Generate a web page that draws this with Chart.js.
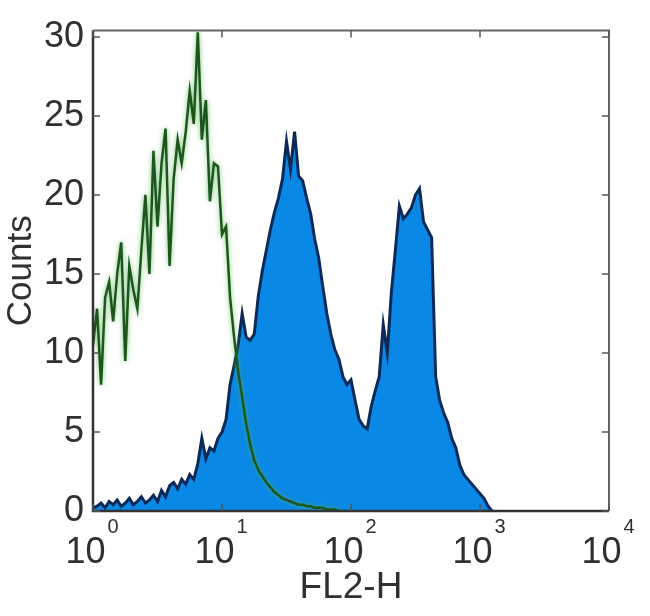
<!DOCTYPE html>
<html>
<head>
<meta charset="utf-8">
<script src="https://cdn.jsdelivr.net/npm/chart.js@4/dist/chart.umd.min.js"></script>
<style>
  html, body { margin: 0; padding: 0; background: #fff; }
  #wrap { width: 650px; height: 616px; position: relative; }
</style>
</head>
<body>
<div id="wrap"><canvas id="hist"></canvas></div>
<script>
// FL2-H histogram: isotype control (green line) vs stained sample (blue fill)

// channel centres, FL2-H units (log spaced, 32 per decade)
var CHANNELS = [
  1.000, 1.075, 1.155, 1.241, 1.334, 1.433, 1.540, 1.655, 1.778, 1.911,
  2.054, 2.207, 2.371, 2.548, 2.738, 2.943, 3.162, 3.398, 3.652, 3.924,
  4.217, 4.532, 4.870, 5.233, 5.623, 6.043, 6.494, 6.978, 7.499, 8.058,
  8.660, 9.306,
  10.00, 10.75, 11.55, 12.41, 13.34, 14.33, 15.40, 16.55, 17.78, 19.11,
  20.54, 22.07, 23.71, 25.48, 27.38, 29.43, 31.62, 33.98, 36.52, 39.24,
  42.17, 45.32, 48.70, 52.33, 56.23, 60.43, 64.94, 69.78, 74.99, 80.58,
  86.60, 93.06,
  100.0, 107.5, 115.5, 124.1, 133.4, 143.3, 154.0, 165.5, 177.8, 191.1,
  205.4, 220.7, 237.1, 254.8, 273.8, 294.3, 316.2, 339.8, 365.2, 392.4,
  421.7, 453.2, 487.0, 523.3, 562.3, 604.3, 649.4, 697.8, 749.9, 805.8,
  866.0, 930.6,
  1000, 1075, 1155, 1241
];

// stained sample counts per channel
var SAMPLE_COUNTS = [
  0.2, 0.3, 0.5, 0.2, 0.6, 0.4, 0.7, 0.3, 0.5, 0.8,
  0.4, 0.6, 0.9, 0.5, 0.7, 1.0, 0.6, 1.3, 0.9, 1.6,
  1.8, 1.4, 2.0, 1.7, 2.3, 2.0, 3.0, 4.6, 3.3, 4.0,
  3.8, 4.6, 5.0, 5.8, 8.0, 9.2, 10.5, 12.5, 11.0, 10.8,
  11.2, 13.6, 15.2, 16.5, 17.8, 18.9, 19.8, 21.0, 23.4, 21.6,
  24.0, 21.2, 20.9, 19.8, 18.8, 17.2, 16.0, 14.2, 12.5, 11.2,
  10.2, 9.6, 8.5, 8.0, 8.3, 7.0, 5.8, 5.4, 5.2, 6.6,
  7.6, 8.5, 11.8, 10.0, 13.8, 16.5, 19.3, 18.5, 18.8, 19.2,
  20.0, 20.4, 18.3, 17.8, 17.3, 8.5, 7.0, 6.2, 5.6, 4.6,
  4.0, 2.9, 2.3, 2.0, 1.7, 1.4, 1.1, 0.8, 0.3, 0
];

// isotype control counts per channel (first 62 channels)
var CONTROL_COUNTS = [
  10.5, 12.8, 8.0, 13.5, 14.5, 12.0, 15.0, 17.0, 9.5, 15.5,
  14.0, 12.8, 16.5, 20.0, 15.0, 22.8, 18.0, 22.0, 24.2, 15.5,
  21.0, 23.5, 22.0, 24.0, 26.6, 24.5, 30.3, 23.5, 26.0, 19.6,
  22.0, 21.8, 17.5, 18.0, 13.5, 11.0, 8.8, 7.2, 5.5, 4.2,
  3.2, 2.6, 2.2, 1.8, 1.5, 1.2, 1.0, 0.8, 0.7, 0.6,
  0.5, 0.4, 0.4, 0.3, 0.3, 0.2, 0.2, 0.2, 0.1, 0.1,
  0.1, 0
];

var X_TICKS = [1, 10, 100, 1000, 10000];
var X_TICK_EXP = ['0', '1', '2', '3', '4'];
var Y_TICKS = [0, 5, 10, 15, 20, 25, 30];

var FONT = "'Liberation Sans', Arial, sans-serif";
var INK = '#303030';

function toPoints(values) {
  return values.map(function(v, i) { return { x: CHANNELS[i], y: v }; });
}

// MATLAB-ish box with inward ticks, plus 10^n labels with raised exponents
var boxPlugin = {
  id: 'boxAxes',
  afterDraw: function(chart) {
    var ctx = chart.ctx, a = chart.chartArea;
    var xs = chart.scales.x, ys = chart.scales.y;
    var t = 7;
    ctx.save();
    ctx.strokeStyle = '#666';
    ctx.lineWidth = 2;
    ctx.beginPath();
    ctx.moveTo(a.left, a.top); ctx.lineTo(a.right, a.top); ctx.lineTo(a.right, a.bottom);
    ctx.stroke();
    ctx.strokeStyle = '#333';
    ctx.lineWidth = 2.5;
    ctx.beginPath();
    ctx.moveTo(a.left, a.top); ctx.lineTo(a.left, a.bottom); ctx.lineTo(a.right, a.bottom);
    ctx.stroke();

    ctx.lineWidth = 1.5;
    ctx.strokeStyle = '#555';
    ctx.beginPath();
    Y_TICKS.forEach(function(v) {
      var py = ys.getPixelForValue(v);
      ctx.moveTo(a.left, py); ctx.lineTo(a.left + t, py);
      ctx.moveTo(a.right, py); ctx.lineTo(a.right - t, py);
    });
    X_TICKS.forEach(function(v) {
      var px = xs.getPixelForValue(v);
      ctx.moveTo(px, a.bottom); ctx.lineTo(px, a.bottom - t);
      ctx.moveTo(px, a.top); ctx.lineTo(px, a.top + t);
    });
    ctx.stroke();

    ctx.fillStyle = INK;
    ctx.textAlign = 'left';
    ctx.textBaseline = 'alphabetic';
    X_TICKS.forEach(function(v, i) {
      var px = xs.getPixelForValue(v);
      ctx.font = '36px ' + FONT;
      var w = ctx.measureText('10').width;
      ctx.font = '20px ' + FONT;
      var we = ctx.measureText(X_TICK_EXP[i]).width;
      var left = px - (w + we) / 2 - 2;
      ctx.font = '36px ' + FONT;
      ctx.fillText('10', left, a.bottom + 52);
      ctx.font = '20px ' + FONT;
      ctx.fillText(X_TICK_EXP[i], left + w + 2, a.bottom + 22);
    });
    ctx.restore();
  }
};

// soft halo on the control line, like the blurred original
var haloPlugin = {
  id: 'halo',
  beforeDatasetDraw: function(chart, args) {
    if (args.index !== 0) return;
    chart.ctx.save();
    chart.ctx.shadowColor = 'rgba(80, 180, 80, 0.8)';
    chart.ctx.shadowBlur = 5;
  },
  afterDatasetDraw: function(chart, args) {
    if (args.index !== 0) return;
    chart.ctx.restore();
  }
};

new Chart(document.getElementById('hist'), {
  type: 'line',
  data: {
    datasets: [
      {
        label: 'Isotype control',
        data: toPoints(CONTROL_COUNTS),
        borderColor: '#1c561c',
        borderWidth: 2.5,
        pointRadius: 0,
        fill: false,
        tension: 0,
      },
      {
        label: 'Sample',
        data: toPoints(SAMPLE_COUNTS),
        borderColor: '#0c2a58',
        backgroundColor: '#0a88e6',
        borderWidth: 3,
        pointRadius: 0,
        fill: 'origin',
        tension: 0,
      },
    ],
  },
  options: {
    responsive: true,
    maintainAspectRatio: false,
    animation: false,
    layout: { padding: { top: 19, right: 41, left: 0, bottom: 0 } },
    plugins: {
      legend: { display: false },
      tooltip: { enabled: false },
    },
    scales: {
      x: {
        type: 'logarithmic',
        min: 1,
        max: 10000,
        grid: { display: false, drawTicks: false },
        border: { display: false },
        ticks: { display: false },
        afterBuildTicks: function(scale) {
          scale.ticks = X_TICKS.map(function(v) { return { value: v }; });
        },
        afterFit: function(scale) { scale.height = 105; },
        title: {
          display: true,
          text: 'FL2-H',
          color: INK,
          font: { family: FONT, size: 37 },
          padding: { top: 0, bottom: 6 },
        },
      },
      y: {
        min: 0,
        max: 30.4,
        grid: { display: false, drawTicks: false },
        border: { display: false },
        afterBuildTicks: function(scale) {
          scale.ticks = Y_TICKS.map(function(v) { return { value: v }; });
        },
        afterFit: function(scale) { scale.width = 93; },
        ticks: {
          color: INK,
          padding: 9,
          font: { family: FONT, size: 36 },
        },
        title: {
          display: true,
          text: 'Counts',
          color: INK,
          font: { family: FONT, size: 35 },
          padding: { top: 0, bottom: 0 },
        },
      },
    },
  },
  plugins: [boxPlugin, haloPlugin],
});
</script>
</body>
</html>
